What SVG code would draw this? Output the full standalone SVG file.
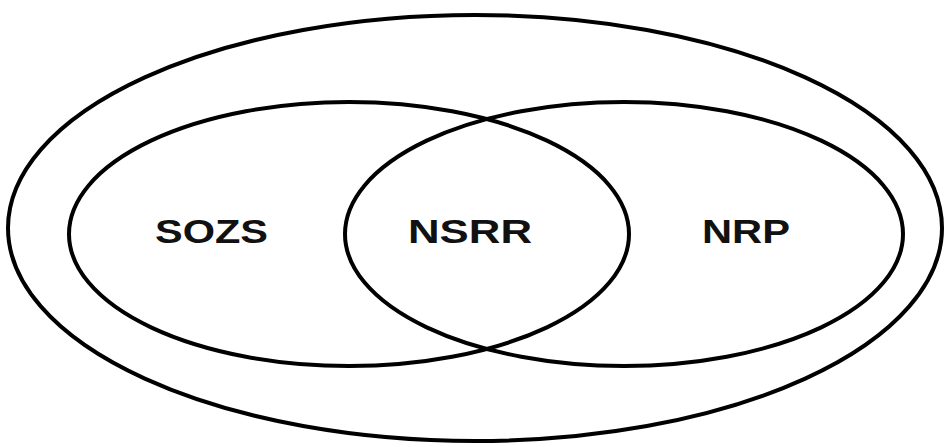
<svg xmlns="http://www.w3.org/2000/svg" width="946" height="447" viewBox="0 0 946 447">
<style>
.e{fill:none;stroke:#000;stroke-width:4}
.t{font-family:"Liberation Sans",Arial,sans-serif;font-weight:bold;font-size:34px;fill:#111}
</style>
<rect width="946" height="447" fill="#fff"/>
<g id="outer"><ellipse class="e" cx="475" cy="228" rx="467" ry="213"/></g>
<g id="sozs"><ellipse class="e" cx="349" cy="234" rx="280" ry="132"/><text class="t" x="155" y="243" textLength="113" lengthAdjust="spacingAndGlyphs">SOZS</text></g>
<g id="nrp"><ellipse class="e" cx="624" cy="234" rx="279" ry="132"/><text class="t" x="702" y="243" textLength="88" lengthAdjust="spacingAndGlyphs">NRP</text></g>
<g id="nsrr"><text class="t" x="408" y="243" textLength="124" lengthAdjust="spacingAndGlyphs">NSRR</text></g>
<g id="connectors"></g>
</svg>
